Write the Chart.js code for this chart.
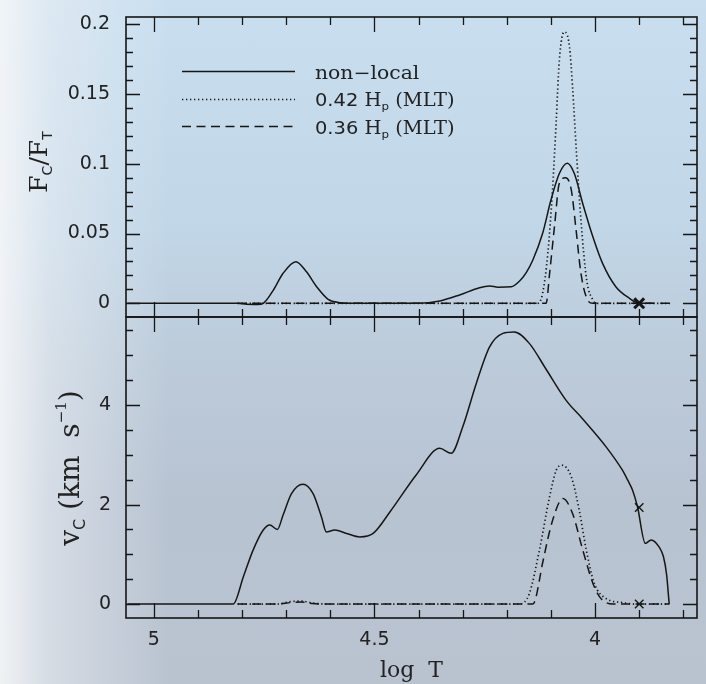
<!DOCTYPE html>
<html><head><meta charset="utf-8">
<script src="https://cdn.jsdelivr.net/npm/chart.js@4.4.1/dist/chart.umd.min.js"></script>
<style>
html,body{margin:0;padding:0;}
body{width:706px;height:684px;overflow:hidden;position:relative;
background:
 linear-gradient(to right, rgba(244,246,248,0.92) 0px, rgba(236,240,244,0.55) 50px, rgba(225,232,240,0) 170px),
 linear-gradient(to bottom, #c9dff0 0px, #c1d6e7 230px, #bccbda 360px, #b8c3d2 500px, #b9c3d0 684px);}
canvas{position:absolute;left:0;}
#top{top:0}
#bot{top:314px}
</style></head><body>
<canvas id="top" width="706" height="320"></canvas>
<canvas id="bot" width="706" height="370"></canvas>
<script>
// ---------------- data ----------------
// Top panel: convective flux fraction Fc/FT vs log T
const fluxNonLocalT = [5.06, 4.81, 4.79, 4.765, 4.752, 4.729, 4.707, 4.678, 4.654, 4.631, 4.605, 4.579, 4.55, 4.40, 4.352, 4.307, 4.262, 4.239, 4.22, 4.19, 4.171, 4.156, 4.141, 4.119, 4.100, 4.081, 4.063, 4.047, 4.028, 4.005, 3.983, 3.953, 3.922, 3.90, 3.87];
const fluxNonLocal  = [0, 0, -0.0007, -0.0008, 0, 0.0095, 0.0215, 0.0298, 0.0226, 0.0119, 0.0029, 0.0005, 0, 0, 0.0017, 0.006, 0.0112, 0.0124, 0.0116, 0.0118, 0.016, 0.022, 0.031, 0.050, 0.074, 0.093, 0.1003, 0.093, 0.0716, 0.0477, 0.0286, 0.0119, 0.0036, 0, 0];

const fluxMLT42T = [4.81, 4.13, 4.119, 4.107, 4.096, 4.088, 4.081, 4.07, 4.058, 4.051, 4.042, 4.032, 4.019, 4.005, 3.998, 3.83];
const fluxMLT42  = [0, 0, 0.007, 0.036, 0.0835, 0.131, 0.174, 0.1945, 0.184, 0.155, 0.107, 0.0597, 0.0167, 0.0024, 0, 0];

const fluxMLT36T = [4.81, 4.111, 4.103, 4.092, 4.081, 4.067, 4.054, 4.043, 4.032, 4.017, 4.005, 3.83];
const fluxMLT36  = [0, 0, 0.0215, 0.055, 0.086, 0.09, 0.0815, 0.0525, 0.0215, 0.0024, 0, 0];

// Bottom panel: convective velocity vc (km/s) vs log T
const velNonLocalT = [5.06, 4.82, 4.797, 4.775, 4.752, 4.737, 4.720, 4.707, 4.688, 4.662, 4.639, 4.620, 4.609, 4.590, 4.563, 4.533, 4.503, 4.465, 4.405, 4.352, 4.326, 4.30, 4.269, 4.239, 4.209, 4.183, 4.149, 4.111, 4.066, 4.028, 3.975, 3.938, 3.926, 3.915, 3.904, 3.886, 3.873, 3.855, 3.845, 3.838, 3.832];
const velNonLocal  = [0, 0, 0.55, 1.085, 1.49, 1.59, 1.50, 1.79, 2.22, 2.41, 2.22, 1.75, 1.45, 1.49, 1.42, 1.35, 1.42, 1.85, 2.6, 3.13, 3.03, 3.56, 4.44, 5.17, 5.44, 5.47, 5.24, 4.72, 4.10, 3.72, 3.16, 2.69, 2.49, 2.29, 1.96, 1.22, 1.29, 1.15, 0.95, 0.6, 0];

const velMLT42T = [4.81, 4.72, 4.69, 4.665, 4.64, 4.6, 4.171, 4.149, 4.126, 4.103, 4.088, 4.075, 4.054, 4.036, 4.020, 4.002, 3.975, 3.938, 3.91, 3.832];
const velMLT42  = [0, 0, 0.05, 0.06, 0.02, 0, 0, 0.21, 1.09, 2.16, 2.69, 2.79, 2.56, 1.89, 1.09, 0.42, 0.11, 0.03, 0, 0];

const velMLT36T = [4.81, 4.72, 4.69, 4.665, 4.64, 4.6, 4.141, 4.135, 4.119, 4.096, 4.073, 4.051, 4.028, 4.005, 3.99, 3.975, 3.96, 3.832];
const velMLT36  = [0, 0, 0.03, 0.04, 0.01, 0, 0, 0.1, 0.82, 1.69, 2.12, 1.82, 1.09, 0.42, 0.15, 0.03, 0, 0];

// cross markers
const markTopT = [3.90];
const markTopY = [0];
const markBotT = [3.90, 3.90];
const markBotY = [1.94, 0];

// axis ticks / labels
const logTTicks = [5, 4.5, 4];
const logTTickLabels = ['5', '4.5', '4'];
const fluxTicks = [0, 0.05, 0.1, 0.15, 0.2];
const fluxTickLabels = ['0', '0.05', '0.1', '0.15', '0.2'];
const velTicks = [0, 2, 4];
const velTickLabels = ['0', '2', '4'];
const legendLabels = ['non\u2212local', '0.42', '0.36'];

// ---------------- helpers ----------------
const INK = '#161616';
const TXT = '#222';
const X_MIN = 3.769, X_MAX = 5.063;
function pts(xs, ys){ return xs.map((x,i)=>({x, y: ys[i]})); }
function range(a, b, s){ const r=[]; const n=Math.round((b-a)/s); for(let i=0;i<=n;i++) r.push(Math.round((a+i*s)*1000)/1000); return r; }
const xMinor = range(3.8, 5.0, 0.1);

function lineDS(label, data, dash){
  return {label, data, borderColor: INK, borderWidth: dash==='dot'?1.7:1.5,
    borderDash: dash==='dot'?[1.3,2.7]:(dash==='dash'?[9,5.5]:[]),
    pointRadius: 0, fill:false, cubicInterpolationMode:'monotone', showLine:true};
}

function richWidth(ctx, parts){ let w=0; for(const p of parts){ ctx.font=p.f; w+=ctx.measureText(p.t).width; } return w; }
function drawRich(ctx, parts, x, y, opt){
  opt = opt || {};
  ctx.save();
  ctx.translate(x, y);
  if (opt.rot) ctx.rotate(opt.rot);
  ctx.scale(opt.sx||1, 1);
  ctx.fillStyle = TXT; ctx.textBaseline = 'alphabetic'; ctx.textAlign='left';
  let cx = opt.center ? -richWidth(ctx, parts)/2 : 0;
  for (const p of parts){ ctx.font = p.f; ctx.fillText(p.t, cx, p.dy||0); cx += ctx.measureText(p.t).width; }
  ctx.restore();
}

const near = (a,b)=>Math.abs(a-b)<1e-6;
const framePlugin = {
  id:'frame',
  afterDraw(chart, args, o){
    const {ctx, chartArea:a, scales} = chart;
    const xs = scales.x, ys = scales.y;
    ctx.save();
    ctx.strokeStyle = INK; ctx.lineWidth = 1.3;
    ctx.beginPath();
    for (const v of xMinor){
      const p = Math.round(xs.getPixelForValue(v))+0.5;
      const L = logTTicks.some(t=>near(t,v)) ? 15 : 8;
      ctx.moveTo(p, a.top); ctx.lineTo(p, a.top+L);
      ctx.moveTo(p, a.bottom); ctx.lineTo(p, a.bottom-L);
    }
    for (const v of o.yMinor){
      const p = Math.round(ys.getPixelForValue(v))+0.5;
      const L = o.yMajor.some(t=>near(t,v)) ? 14 : 7;
      ctx.moveTo(a.left, p); ctx.lineTo(a.left+L, p);
      ctx.moveTo(a.right, p); ctx.lineTo(a.right-L, p);
    }
    ctx.stroke();
    ctx.lineWidth = 1.6;
    ctx.strokeRect(a.left, a.top, a.right-a.left, a.bottom-a.top);
    ctx.restore();
    if (o.extra) o.extra(chart);
  }
};

const tickFont = {family:'DejaVu Sans', size:19};
function fitY(s){ s.width = 126; s.paddingTop = 0; s.paddingBottom = 0; }

// ---------------- top chart ----------------
new Chart(document.getElementById('top'), {
  type:'scatter',
  data:{ datasets:[
    lineDS('non-local', pts(fluxNonLocalT, fluxNonLocal), 'solid'),
    lineDS('0.42 Hp (MLT)', pts(fluxMLT42T, fluxMLT42), 'dot'),
    lineDS('0.36 Hp (MLT)', pts(fluxMLT36T, fluxMLT36), 'dash'),
    {label:'marker', data: pts(markTopT, markTopY), showLine:false, pointStyle:'crossRot', pointRadius:7, borderColor:INK, borderWidth:3, backgroundColor:INK}
  ]},
  options:{
    responsive:false, animation:false, events:[],
    layout:{autoPadding:false, padding:{top:17, right:9, bottom:3, left:0}},
    plugins:{ legend:{display:false}, tooltip:{enabled:false},
      frame:{ yMinor: range(0, 0.2, 0.01), yMajor: fluxTicks, extra(chart){
        const ctx = chart.ctx;
        // legend
        const rows = [71, 99, 126];
        const dashes = [[], [1.3,2.7], [9,5.5]];
        ctx.save(); ctx.strokeStyle = INK;
        rows.forEach((y,i)=>{ ctx.beginPath(); ctx.setLineDash(dashes[i]); ctx.lineWidth = i===1?1.7:1.5; ctx.moveTo(182,y+0.5); ctx.lineTo(295,y+0.5); ctx.stroke(); });
        ctx.restore();
        const serif = '18px "DejaVu Serif"', sans='18px "DejaVu Sans"', sub='11px "DejaVu Sans"';
        drawRich(ctx, [{t:legendLabels[0], f:serif}], 315, 79, {sx:1.13});
        drawRich(ctx, [{t:legendLabels[1]+' ', f:sans},{t:'H', f:serif},{t:'p', f:sub, dy:4},{t:' (MLT)', f:serif}], 315, 106, {sx:1.08});
        drawRich(ctx, [{t:legendLabels[2]+' ', f:sans},{t:'H', f:serif},{t:'p', f:sub, dy:4},{t:' (MLT)', f:serif}], 315, 134, {sx:1.08});
        // y title
        drawRich(ctx, [{t:'F', f:'25px "DejaVu Serif"'},{t:'C', f:'14px "DejaVu Sans"', dy:5},{t:'/F', f:'25px "DejaVu Serif"'},{t:'T', f:'14px "DejaVu Sans"', dy:5}], 47, 162, {rot:-Math.PI/2, center:true});
      }}
    },
    scales:{
      x:{type:'linear', reverse:true, min:X_MIN, max:X_MAX, display:false},
      y:{type:'linear', min:-0.0098, max:0.2052,
        afterBuildTicks(s){ s.ticks = fluxTicks.map(v=>({value:v})); },
        afterFit: fitY,
        grid:{display:false, drawTicks:false}, border:{display:false},
        ticks:{font:tickFont, color:TXT, padding:16, callback:(v)=>{ const i=fluxTicks.findIndex(t=>near(t,v)); return i>=0?fluxTickLabels[i]:''; }}
      }
    }
  },
  plugins:[framePlugin]
});

// ---------------- bottom chart ----------------
new Chart(document.getElementById('bot'), {
  type:'scatter',
  data:{ datasets:[
    lineDS('non-local', pts(velNonLocalT, velNonLocal), 'solid'),
    lineDS('0.42 Hp (MLT)', pts(velMLT42T, velMLT42), 'dot'),
    lineDS('0.36 Hp (MLT)', pts(velMLT36T, velMLT36), 'dash'),
    {label:'marker', data: pts(markBotT, markBotY), showLine:false, pointStyle:'crossRot', pointRadius:6, borderColor:INK, borderWidth:1.4, backgroundColor:INK}
  ]},
  options:{
    responsive:false, animation:false, events:[],
    layout:{autoPadding:false, padding:{top:3, right:9, bottom:0, left:0}},
    plugins:{ legend:{display:false}, tooltip:{enabled:false},
      frame:{ yMinor: range(0, 5.5, 0.5), yMajor: velTicks, extra(chart){
        drawRich(chart.ctx, [{t:'v', f:'28px "DejaVu Serif"'},{t:'C', f:'16px "DejaVu Sans"', dy:6},{t:' (km  s', f:'28px "DejaVu Serif"'},{t:'\u22121', f:'15px "DejaVu Serif"', dy:-13},{t:')', f:'28px "DejaVu Serif"'}], 79, 468-314, {rot:-Math.PI/2, center:true});
      }}
    },
    scales:{
      x:{type:'linear', reverse:true, min:X_MIN, max:X_MAX,
        afterBuildTicks(s){ s.ticks = logTTicks.map(v=>({value:v})); },
        afterFit(s){ s.height = 66; s.paddingLeft = 0; s.paddingRight = 0; },
        grid:{display:false, drawTicks:false}, border:{display:false},
        ticks:{font:tickFont, color:TXT, padding:11, maxRotation:0, callback:(v)=>{ const i=logTTicks.findIndex(t=>near(t,v)); return i>=0?logTTickLabels[i]:''; }},
        title:{display:true, text:'log  T', font:{family:'DejaVu Serif', size:22}, color:TXT, padding:{top:0,bottom:0}}
      },
      y:{type:'linear', min:-0.28, max:5.77,
        afterBuildTicks(s){ s.ticks = velTicks.map(v=>({value:v})); },
        afterFit: fitY,
        grid:{display:false, drawTicks:false}, border:{display:false},
        ticks:{font:tickFont, color:TXT, padding:15, callback:(v)=>{ const i=velTicks.findIndex(t=>near(t,v)); return i>=0?velTickLabels[i]:''; }}
      }
    }
  },
  plugins:[framePlugin]
});
</script>
</body></html>
